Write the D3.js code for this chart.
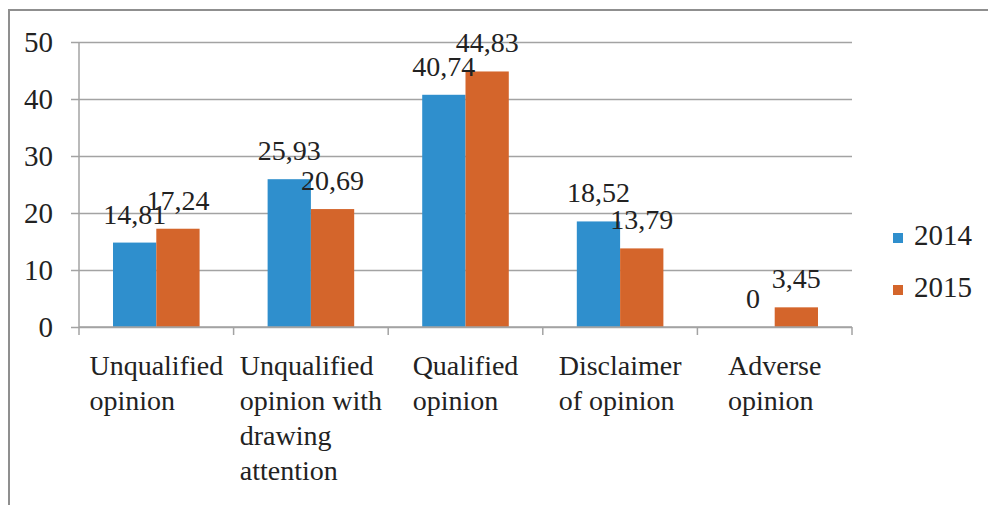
<!DOCTYPE html>
<html>
<head>
<meta charset="utf-8">
<script src="https://cdn.jsdelivr.net/npm/d3@7"></script>
<style>
  body { margin: 0; background: #fff; }
  svg text { font-family: "Liberation Serif", "Times New Roman", Times, "DejaVu Serif", serif !important; fill: #222; }
</style>
</head>
<body>
<div id="chart"></div>
<script>
//Data
var categories = [
    ["Unqualified", "opinion"],
    ["Unqualified", "opinion with", "drawing", "attention"],
    ["Qualified", "opinion"],
    ["Disclaimer", "of opinion"],
    ["Adverse", "opinion"]
];
var years = ["2014", "2015"];
var values2014 = [14.81, 25.93, 40.74, 18.52, 0];
var values2015 = [17.24, 20.69, 44.83, 13.79, 3.45];
var yTicks = [0, 10, 20, 30, 40, 50];
var colors = ["#2f8fcd", "#d4652b"];

var serif = "'Liberation Serif', 'Times New Roman', Times, 'DejaVu Serif', serif";
var commaFormat = function (d) { return String(d).replace('.', ','); };

//Setup
var width = 988, height = 505;
var plot = { left: 79, right: 852, top: 42, bottom: 327 };

var svg = d3.select("#chart")
    .append("svg")
    .attr("width", width)
    .attr("height", height)
    .style("font-family", serif);

//outer frame
svg.append("path")
    .attr("d", "M9,505 V10 H988")
    .attr("fill", "none")
    .attr("stroke", "#8f8f8f")
    .attr("stroke-width", 2);

var y = d3.scaleLinear().domain([0, 50]).range([plot.bottom, plot.top]);
var x0 = d3.scaleBand().domain(d3.range(categories.length)).range([plot.left, plot.right]);
var groupWidth = x0.bandwidth() * 0.56;
var x1 = d3.scaleBand().domain(years).range([0, groupWidth]);

//gridlines + y ticks
var yAxis = svg.append("g")
    .attr("transform", `translate(${plot.left}, 0)`)
    .call(d3.axisLeft(y)
        .tickValues(yTicks)
        .tickSize(-(plot.right - plot.left))
        .tickPadding(26));
yAxis.attr("font-family", null).attr("font-size", null);
yAxis.select(".domain").remove();
yAxis.selectAll(".tick line")
    .attr("x1", -8)
    .attr("stroke", "#a3a3a3")
    .attr("stroke-width", 1.5);
yAxis.selectAll(".tick text")
    .attr("font-size", 29)
    .style("font-family", serif)
    .attr("fill", "#222");

//y axis line
svg.append("line")
    .attr("x1", plot.left).attr("x2", plot.left)
    .attr("y1", y(50)).attr("y2", y(0))
    .attr("stroke", "#a3a3a3").attr("stroke-width", 1.5);

//bars
var series = [values2014, values2015];
var groups = svg.append("g").selectAll("g")
    .data(categories)
    .join("g")
    .attr("transform", (d, i) => `translate(${x0(i) + (x0.bandwidth() - groupWidth) / 2}, 0)`);

groups.selectAll("rect")
    .data((d, i) => years.map((yr, k) => ({ year: yr, k: k, value: series[k][i] })))
    .join("rect")
    .attr("x", d => x1(d.year))
    .attr("width", x1.bandwidth())
    .attr("y", d => y(d.value))
    .attr("height", d => y(0) - y(d.value))
    .attr("fill", d => colors[d.k]);

groups.selectAll("text.val")
    .data((d, i) => years.map((yr, k) => ({ year: yr, k: k, value: series[k][i] })))
    .join("text")
    .attr("class", "val")
    .attr("x", d => x1(d.year) + x1.bandwidth() / 2)
    .attr("y", d => y(d.value) - 19)
    .attr("text-anchor", "middle")
    .attr("font-size", 28)
    .style("font-family", serif)
    .text(d => commaFormat(d.value));

//x axis
var xAxisG = svg.append("g");
xAxisG.append("line")
    .attr("x1", plot.left).attr("x2", plot.right)
    .attr("y1", y(0)).attr("y2", y(0))
    .attr("stroke", "#a3a3a3").attr("stroke-width", 1.5);
xAxisG.selectAll("line.tick")
    .data(d3.range(categories.length + 1))
    .join("line")
    .attr("class", "tick")
    .attr("x1", i => plot.left + i * x0.bandwidth())
    .attr("x2", i => plot.left + i * x0.bandwidth())
    .attr("y1", y(0)).attr("y2", y(0) + 8)
    .attr("stroke", "#a3a3a3").attr("stroke-width", 1.5);

//category labels: left-aligned block, centred in band
categories.forEach(function (lines, i) {
    var t = svg.append("text")
        .attr("font-size", 28)
        .style("font-family", serif);
    lines.forEach(function (ln, j) {
        t.append("tspan")
            .attr("x", 0)
            .attr("y", 375 + j * 35)
            .text(ln);
    });
    var w = d3.max(t.selectAll("tspan").nodes(), n => n.getComputedTextLength());
    t.attr("transform", `translate(${x0(i) + x0.bandwidth() / 2 - w / 2}, 0)`);
});

//legend
var legend = svg.append("g").selectAll("g")
    .data(years)
    .join("g")
    .attr("transform", (d, i) => `translate(893, ${245 + i * 52})`);
legend.append("rect")
    .attr("x", 0).attr("y", -12)
    .attr("width", 10).attr("height", 10)
    .attr("fill", (d, i) => colors[i]);
legend.append("text")
    .attr("x", 21).attr("y", 0)
    .attr("font-size", 29)
    .style("font-family", serif)
    .text(d => d);
</script>
</body>
</html>
